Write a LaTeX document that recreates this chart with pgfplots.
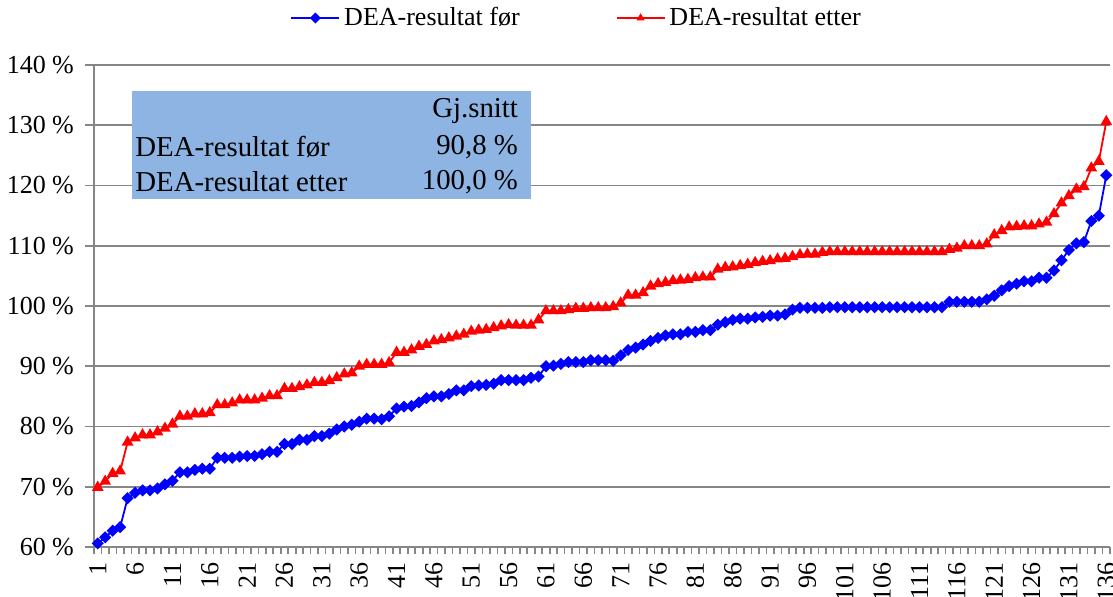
\documentclass[border=0pt]{standalone}
\usepackage{pgfplots}
\usepackage{pgfplotstable}
\pgfplotsset{compat=1.18}
\usepackage{fontspec}
\setmainfont{Liberation Serif}
\definecolor{boxblue}{RGB}{141,180,226}
\definecolor{gridgray}{RGB}{134,134,134}
\pgfplotstableread{
n b r
1 60.6 69.9
2 61.6 70.9
3 62.7 72.2
4 63.3 72.6
5 68.1 77.4
6 69.0 78.1
7 69.4 78.6
8 69.4 78.6
9 69.7 79.1
10 70.4 79.7
11 71.0 80.4
12 72.4 81.7
13 72.4 81.7
14 72.8 82.1
15 73.0 82.1
16 73.0 82.3
17 74.8 83.6
18 74.8 83.6
19 74.8 83.9
20 75.0 84.4
21 75.1 84.4
22 75.1 84.4
23 75.4 84.7
24 75.8 85.1
25 75.8 85.1
26 77.1 86.3
27 77.1 86.3
28 77.8 86.6
29 77.8 86.9
30 78.4 87.3
31 78.4 87.3
32 78.8 87.6
33 79.5 88.1
34 80.0 88.7
35 80.3 88.9
36 80.8 90.0
37 81.3 90.3
38 81.3 90.3
39 81.2 90.3
40 81.7 90.6
41 83.0 92.3
42 83.3 92.3
43 83.4 92.7
44 84.0 93.3
45 84.7 93.6
46 85.0 94.2
47 85.0 94.4
48 85.4 94.7
49 86.0 95.0
50 86.0 95.3
51 86.7 95.8
52 86.8 96.0
53 86.9 96.1
54 87.1 96.4
55 87.7 96.7
56 87.7 96.9
57 87.7 96.8
58 87.7 96.8
59 88.1 96.8
60 88.3 97.7
61 90.0 99.2
62 90.1 99.2
63 90.4 99.2
64 90.7 99.4
65 90.7 99.6
66 90.7 99.6
67 91.0 99.7
68 91.0 99.7
69 91.0 99.7
70 90.9 99.9
71 91.8 100.5
72 92.7 101.8
73 93.1 101.8
74 93.6 102.2
75 94.2 103.3
76 94.7 103.7
77 95.1 103.9
78 95.3 104.2
79 95.3 104.3
80 95.7 104.4
81 95.7 104.7
82 96.0 104.8
83 96.0 104.8
84 96.9 106.1
85 97.3 106.4
86 97.7 106.5
87 97.9 106.7
88 97.9 106.9
89 98.1 107.2
90 98.2 107.4
91 98.4 107.5
92 98.4 107.8
93 98.6 107.9
94 99.4 108.2
95 99.7 108.5
96 99.7 108.6
97 99.7 108.6
98 99.7 108.9
99 99.8 109.0
100 99.8 109.0
101 99.8 109.0
102 99.8 109.0
103 99.8 109.0
104 99.8 109.0
105 99.8 109.0
106 99.8 109.0
107 99.8 109.0
108 99.8 109.0
109 99.8 109.0
110 99.8 109.0
111 99.8 109.0
112 99.8 109.0
113 99.8 109.0
114 99.8 109.0
115 100.7 109.4
116 100.7 109.6
117 100.7 110.0
118 100.7 110.0
119 100.7 110.0
120 101.1 110.3
121 101.7 111.8
122 102.6 112.5
123 103.3 113.1
124 103.7 113.2
125 104.1 113.3
126 104.1 113.3
127 104.7 113.6
128 104.7 113.9
129 105.9 115.3
130 107.6 117.1
131 109.3 118.3
132 110.4 119.4
133 110.6 119.8
134 114.1 122.9
135 115.0 124.0
136 121.7 130.6
}\dea
\begin{document}
\begin{tikzpicture}[font=\fontsize{13}{15.6}\selectfont]
\begin{axis}[
  scale only axis,
  width=508pt, height=241pt,
  xmin=0.5, xmax=136.5, ymin=60, ymax=140,
  axis lines*=left,
  axis line style={draw=gridgray, line width=0.8pt},
  tick align=outside,
  major tick length=4.5pt, minor tick length=3.5pt,
  ytick={60,70,...,140},
  yticklabels={60 \%,70 \%,80 \%,90 \%,100 \%,110 \%,120 \%,130 \%,140 \%},
  yticklabel shift=2pt,
  ymajorgrids,
  grid style={draw=gridgray, line width=0.8pt},
  ytick style={draw=gridgray, line width=0.8pt},
  xtick={1,6,...,136},
  xticklabels={1,6,11,16,21,26,31,36,41,46,51,56,61,66,71,76,81,86,91,96,101,106,111,116,121,126,131,136},
  minor xtick={0.5,1.5,...,136.5},
  major x tick style={draw=none},
  minor x tick style={draw=gridgray, line width=0.8pt},
  xticklabel shift=-0.5pt,
  xticklabel style={rotate=90, anchor=east},
  clip=false,
  legend columns=2,
  legend style={at={(0.476,1.0975)}, anchor=center, draw=none, fill=none,
    font=\fontsize{13}{15.6}\selectfont,
    /tikz/every odd column/.append style={column sep=0pt},
    /tikz/every even column/.append style={column sep=46pt}},
  legend image code/.code={\draw[mark repeat=2,mark phase=2,#1,mark size=1.5pt] plot coordinates {(0pt,0pt) (12pt,0pt) (24pt,0pt)};},
]
\fill[boxblue] (rel axis cs:0.0374,0.722) rectangle (rel axis cs:0.4301,0.946);
\node[anchor=east, font=\fontsize{14.4}{17}\selectfont] at (rel axis cs:0.4242,0.905) {Gj.snitt};
\node[anchor=west, font=\fontsize{14.4}{17}\selectfont, inner xsep=0pt] at (rel axis cs:0.0404,0.8305) {DEA-resultat før};
\node[anchor=east, font=\fontsize{14.4}{17}\selectfont] at (rel axis cs:0.4242,0.8305) {90,8 \%};
\node[anchor=west, font=\fontsize{14.4}{17}\selectfont, inner xsep=0pt] at (rel axis cs:0.0404,0.758) {DEA-resultat etter};
\node[anchor=east, font=\fontsize{14.4}{17}\selectfont] at (rel axis cs:0.4242,0.758) {100,0 \%};
\addplot[color=blue, line width=0.9pt, mark=square*, mark size=1.7pt, mark options={rotate=45, fill=blue, draw=blue}] table[x=n, y=b] {\dea};
\addlegendentry{DEA-resultat før}
\addplot[color=red, line width=0.9pt, mark=triangle*, mark size=2.5pt, mark options={fill=red, draw=red}] table[x=n, y=r] {\dea};
\addlegendentry{DEA-resultat etter}
\end{axis}
\pgfresetboundingbox
\path[use as bounding box] (-47pt,-24.5pt) rectangle (509.5pt,273.5pt);
\end{tikzpicture}
\end{document}
